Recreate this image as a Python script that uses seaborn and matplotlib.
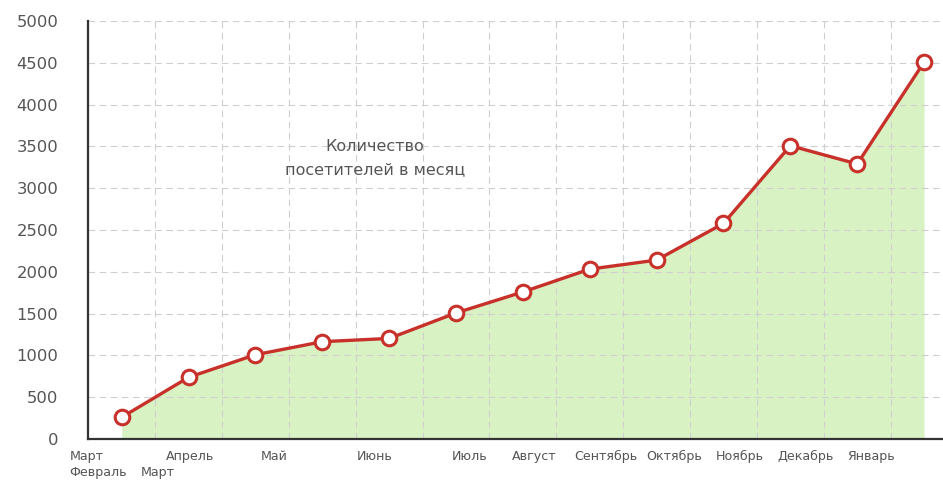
import numpy as np
import pandas as pd
import matplotlib
matplotlib.use("Agg")
import matplotlib.pyplot as plt
import seaborn as sns

# ---- data ----
visitors = [260, 738, 1008, 1164, 1203, 1508, 1759, 2032, 2140, 2579, 3508, 3290, 4508]
label_row1 = ["Март", "Апрель", "Май", "Июнь", "Июль", "Август", "Сентябрь",
              "Октябрь", "Ноябрь", "Декабрь", "Январь"]
label_row1_pos = [-0.78, 0.66, 2.08, 3.51, 4.94, 5.84, 6.77, 7.84, 8.89, 9.81, 10.85]
label_row2 = ["Февраль", "Март"]
label_row2_pos = [-0.78, 0.28]
y_ticks = [0, 500, 1000, 1500, 2000, 2500, 3000, 3500, 4000, 4500, 5000]
title_text = "Количество\nпосетителей в месяц"

df = pd.DataFrame({"idx": np.arange(len(visitors)), "visitors": visitors})

sns.set_style("white")
plt.rcParams["font.family"] = ["DejaVu Sans"]

TEXT = "#555555"
RED = "#c8302a"
GREEN = "#d9f2c3"

fig = plt.figure(figsize=(9.43, 4.82), dpi=100)
ax = fig.add_axes([87.5 / 943, 43 / 482, 855.5 / 943, 418 / 482])

ax.fill_between(df["idx"], 0, df["visitors"], color=GREEN, linewidth=0, zorder=1)

sns.lineplot(data=df, x="idx", y="visitors", ax=ax, color=RED, linewidth=2.4,
             marker="o", markersize=10.5, markerfacecolor="white",
             markeredgecolor=RED, markeredgewidth=2.2, zorder=5)

ax.set_xlim(-0.512, 12.283)
ax.set_ylim(0, 5000)
ax.set_yticks(y_ticks)
ax.set_yticklabels([str(v) for v in y_ticks])
ax.set_xticks(np.arange(0.5, 12.5, 1))
ax.set_xticklabels([])
ax.tick_params(axis="both", length=0)
ax.tick_params(axis="y", pad=21, labelsize=11.8, labelcolor=TEXT)
ax.set_xlabel("")
ax.set_ylabel("")

ax.grid(True, color="#cfcfcf", linestyle=(0, (6, 4)), linewidth=0.8, zorder=2)
ax.set_axisbelow(False)
for art in ax.get_xgridlines() + ax.get_ygridlines():
    art.set_zorder(2)

for side in ["top", "right"]:
    ax.spines[side].set_visible(False)
for side in ["left", "bottom"]:
    ax.spines[side].set_color("#333333")
    ax.spines[side].set_linewidth(1.6)
    ax.spines[side].set_zorder(6)

trans = ax.get_xaxis_transform()
for lab, pos in zip(label_row1, label_row1_pos):
    ax.text(pos, -0.041, lab, transform=trans, ha="left", va="center",
            fontsize=9.1, color=TEXT, clip_on=False)
for lab, pos in zip(label_row2, label_row2_pos):
    ax.text(pos, -0.080, lab, transform=trans, ha="left", va="center",
            fontsize=9.1, color=TEXT, clip_on=False)

ax.text(0.336, 0.672, title_text, transform=ax.transAxes, ha="center", va="center",
        fontsize=11.5, color=TEXT, linespacing=1.65, zorder=7)

fig.savefig("out.png", dpi=100)
